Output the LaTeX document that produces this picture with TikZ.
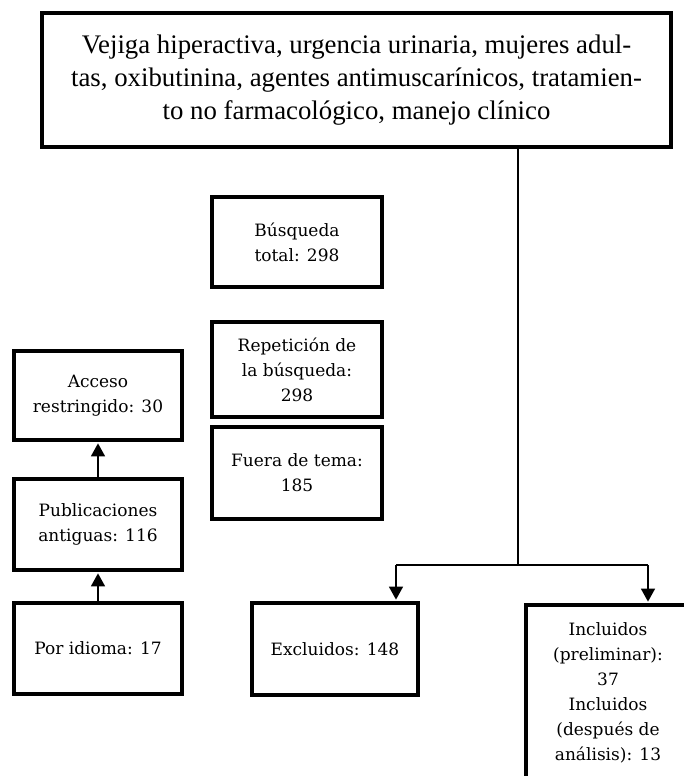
\documentclass[tikz,border=0pt]{standalone}
\usepackage{fontspec}
\setmainfont{Liberation Serif}
\newfontfamily\boxfont{DejaVu Serif}
\usepackage{tikz}
\usetikzlibrary{arrows.meta}

\tikzset{
  box/.style={draw, line width=3.8pt, align=center, inner sep=0pt,
    font=\boxfont\fontsize{17}{25}\selectfont},
  smallbox/.style={box, minimum width=168pt, minimum height=91pt},
  arr/.style={line width=1.6pt, -{Triangle[length=13pt,width=14pt]}, shorten >=1.5pt},
  link/.style={line width=1.6pt}
}

\begin{document}
\begin{tikzpicture}[x=1pt, y=-1pt]
      \useasboundingbox (0,0) rectangle (683,776);

      % keywords on top
      \node[box, minimum width=629pt, minimum height=134pt,
        font=\fontsize{26.8}{33}\selectfont] (kw) at (356.5,80)
        {Vejiga hiperactiva, urgencia urinaria, mujeres adul-\\
         tas, oxibutinina, agentes antimuscarínicos, tratamien-\\
         to no farmacológico, manejo clínico};

      % middle column
      \node[smallbox, minimum width=170pt, minimum height=90pt] (busq) at (297,242) {Búsqueda\\total: 298};
      \node[smallbox, minimum width=170pt, minimum height=95pt] (rep) at (297,369.5) {Repetición de\\la búsqueda:\\298};
      \node[smallbox, minimum width=170pt, minimum height=92pt] (fuera) at (297,473) {Fuera de tema:\\185};

      % left column
      \node[smallbox, minimum height=89pt] (acceso) at (98,395.5) {Acceso\\restringido: 30};
      \node[smallbox] (antig) at (98,524.5) {Publicaciones\\antiguas: 116};
      \node[smallbox] (idioma) at (98,648.5) {Por idioma: 17};

      % bottom row
      \node[smallbox, minimum width=166pt, minimum height=92pt] (excl) at (335,649) {Excluidos: 148};
      \node[smallbox, minimum width=164pt, minimum height=175pt] (incl) at (608,692.5)
        {Incluidos\\(preliminar):\\37\\Incluidos\\(después de\\análisis): 13};

      % arrows on the left
      \draw[arr] (idioma.north) -- (antig.south);
      \draw[arr] (antig.north) -- (acceso.south);

      % split from the keywords
      \coordinate (split) at (518,565);
      \coordinate (lft) at (396,565);
      \coordinate (rgt) at (648,565);
      \draw[link] (kw.south -| split) -- (split);
      \draw[link] (lft) -- (rgt);
      \draw[arr] (lft) -- (lft |- excl.north);
      \draw[arr] (rgt) -- (rgt |- incl.north);
\end{tikzpicture}
\end{document}
